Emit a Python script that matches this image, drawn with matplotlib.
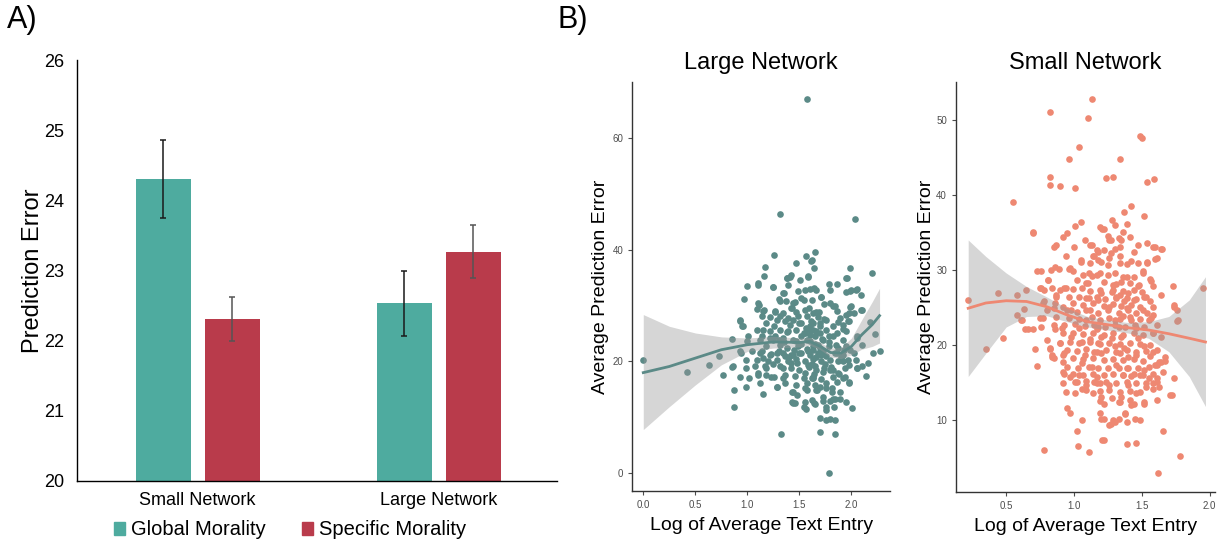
import numpy as np
import matplotlib
matplotlib.use('Agg')
import matplotlib.pyplot as plt
from matplotlib.patches import Patch

plt.rcParams['font.family'] = ['Liberation Sans', 'DejaVu Sans']

# --- panel A: bar chart ---
groups = ['Small Network', 'Large Network']
global_mean = [24.30, 22.53]
global_lo = [23.75, 22.07]
global_hi = [24.86, 22.99]
specific_mean = [22.31, 23.27]
specific_lo = [22.00, 22.89]
specific_hi = [22.62, 23.65]

# --- panel B: large network scatter (x, y) ---
large_pts = [
    (1.57, 67.0), (1.31, 46.4), (2.03, 45.6), (1.26, 39.0), (1.65, 39.6), (1.56, 38.8),
    (1.61, 38.0), (1.47, 37.7), (1.64, 36.7), (1.99, 36.7), (2.20, 35.9), (1.17, 37.0),
    (1.16, 35.3), (1.38, 35.0), (1.41, 35.1), (1.58, 35.2), (1.51, 34.6), (1.96, 34.9),
    (1.78, 33.9), (1.86, 33.9), (1.10, 33.7), (1.00, 33.6), (1.25, 33.3), (1.35, 32.2),
    (1.49, 32.7), (1.60, 33.0), (1.64, 33.2), (1.79, 32.8), (1.99, 32.7), (2.04, 32.8),
    (2.09, 31.9), (0.97, 31.1), (1.30, 31.2), (1.37, 30.9), (1.46, 30.7), (1.54, 31.0),
    (1.71, 31.5), (1.11, 30.1), (1.82, 30.0), (1.99, 29.8), (1.09, 29.4), (1.16, 29.2),
    (2.09, 29.3), (1.27, 29.0), (1.34, 28.7), (1.43, 29.6), (1.59, 29.6), (1.63, 28.7),
    (1.74, 30.3), (1.86, 29.0), (1.98, 28.7), (2.02, 28.6), (0.93, 27.5), (1.14, 28.1),
    (1.22, 27.9), (1.31, 28.2), (1.39, 27.8), (1.49, 28.1), (1.57, 28.1), (1.68, 27.9),
    (1.76, 27.5), (1.89, 27.8), (1.97, 27.2), (0.95, 26.4), (1.18, 26.9), (1.26, 26.3),
    (1.41, 26.6), (1.50, 26.9), (1.60, 26.3), (1.63, 26.9), (1.70, 26.3), (1.82, 26.3),
    (1.92, 26.6), (2.18, 27.0), (1.09, 25.7), (1.22, 25.4), (1.31, 25.7), (1.38, 25.2),
    (1.47, 25.7), (1.54, 25.1), (1.60, 25.7), (1.66, 25.4), (1.76, 25.6), (1.86, 25.1),
    (1.95, 25.4), (2.23, 24.9), (0.85, 24.0), (1.01, 24.6), (1.14, 24.5), (1.25, 23.9),
    (1.34, 24.2), (1.44, 23.9), (1.52, 24.5), (1.60, 23.6), (1.65, 24.5), (1.73, 23.9),
    (1.82, 24.5), (1.92, 23.9), (2.05, 24.2), (1.00, 23.6), (2.10, 23.0), (1.31, 23.0),
    (1.18, 22.7), (1.38, 22.4), (1.49, 22.7), (1.57, 22.2), (1.63, 22.7), (1.70, 22.4),
    (1.78, 22.7), (1.87, 22.4), (1.95, 22.7), (1.99, 22.1), (0.93, 21.8), (0.94, 21.5),
    (1.04, 21.8), (1.12, 21.5), (1.23, 21.4), (1.34, 21.5), (1.42, 21.2), (1.50, 21.6),
    (1.60, 21.2), (1.68, 21.5), (1.76, 21.0), (1.84, 21.5), (1.92, 21.2), (2.02, 21.5),
    (2.21, 21.6), (2.27, 21.9), (1.15, 20.7), (0.99, 20.2), (1.28, 20.3), (1.39, 20.0),
    (1.47, 20.4), (1.55, 20.0), (1.63, 20.4), (1.71, 20.0), (1.79, 20.3), (1.87, 20.0),
    (1.97, 20.3), (2.04, 20.2), (2.16, 19.8), (0.85, 19.0), (0.99, 18.8), (1.07, 19.1),
    (1.18, 18.8), (1.31, 19.1), (1.42, 18.8), (1.50, 18.5), (1.59, 19.0), (1.66, 18.5),
    (1.74, 18.8), (1.82, 18.5), (1.94, 18.8), (2.05, 18.8), (0.93, 17.2), (1.02, 17.0),
    (1.10, 17.6), (1.23, 17.3), (1.34, 17.0), (1.46, 17.4), (1.54, 17.0), (1.63, 17.3),
    (1.71, 16.8), (1.82, 17.2), (1.92, 17.0), (1.98, 16.4), (2.14, 17.4), (1.12, 16.2),
    (1.36, 16.1), (1.47, 15.8), (1.57, 16.2), (1.65, 15.8), (1.76, 16.1), (1.86, 16.4),
    (0.99, 15.5), (1.28, 15.4), (0.87, 14.9), (1.44, 14.6), (1.57, 14.9), (1.67, 14.8),
    (1.81, 15.2), (1.89, 14.6), (1.15, 14.1), (1.48, 14.0), (1.73, 13.7), (1.43, 12.7),
    (1.46, 12.5), (1.55, 12.7), (1.62, 13.1), (1.65, 12.4), (1.79, 13.0), (1.84, 13.3),
    (1.89, 13.3), (1.95, 12.7), (1.54, 11.9), (1.56, 11.5), (1.76, 11.9), (1.83, 11.8),
    (2.01, 11.6), (0.87, 11.9), (1.70, 9.9), (1.76, 9.6), (1.79, 9.7), (1.84, 9.6),
    (1.32, 7.0), (1.70, 7.3), (1.84, 7.0), (1.78, 0.0), (0.00, 20.2), (0.42, 18.1),
    (0.63, 19.3), (0.73, 21.0), (0.77, 17.5),
    (1.60, 24.8), (1.65, 23.2), (1.70, 26.8), (1.62, 19.6), (1.58, 21.8), (1.68, 22.9),
    (1.72, 24.0), (1.75, 19.5), (1.66, 20.8), (1.56, 26.0), (1.61, 27.2), (1.69, 28.9),
    (1.52, 23.2), (1.48, 19.7), (1.78, 23.4), (1.73, 21.8), (1.64, 17.8), (1.55, 18.0),
    (1.80, 19.0), (1.85, 22.9), (1.45, 22.0), (1.40, 20.8), (1.35, 23.5), (1.30, 21.9),
    (1.27, 24.6), (1.20, 20.0), (1.25, 19.5), (1.90, 20.8), (1.88, 17.8), (1.93, 22.0),
    (1.10, 34.0), (1.25, 33.4), (1.38, 35.0), (1.42, 35.4), (1.39, 33.7), (1.58, 35.3),
    (1.34, 32.2), (1.55, 32.8), (1.10, 30.4), (1.15, 29.1), (1.31, 30.9), (1.44, 30.5),
    (1.52, 31.3), (1.62, 31.0), (1.27, 28.9), (1.42, 29.5), (1.47, 28.9), (1.55, 29.2),
    (0.93, 27.3), (0.96, 26.4), (1.28, 27.5), (1.36, 27.2), (1.44, 27.5), (1.52, 26.9),
    (1.15, 25.7), (1.39, 25.4), (1.55, 25.1), (1.63, 25.7), (1.12, 23.9), (1.22, 24.2),
    (1.30, 23.9), (1.47, 23.6), (1.57, 23.9), (1.14, 21.8), (1.22, 21.2), (1.28, 21.5),
    (1.36, 20.9), (1.44, 21.2), (1.52, 21.5), (0.86, 19.1), (1.09, 20.3), (1.17, 19.2),
    (1.34, 18.8), (1.42, 19.7), (1.58, 19.4), (1.10, 17.9), (1.18, 17.6), (1.26, 17.3),
    (1.36, 17.6), (1.62, 17.0), (1.28, 15.5), (1.43, 14.6), (1.55, 15.2), (1.44, 12.5),
    (1.62, 38.2), (1.95, 34.9), (2.05, 33.0), (2.00, 32.8), (1.95, 32.5), (1.66, 32.8),
    (1.71, 31.6), (1.79, 30.5), (1.84, 29.9), (2.00, 29.9), (2.10, 29.3), (1.95, 28.4),
    (1.98, 27.2), (1.66, 28.8), (1.74, 27.6), (1.87, 27.0), (1.92, 25.8), (1.70, 25.1),
    (1.78, 24.5), (2.05, 24.5), (1.63, 22.1), (1.71, 21.2), (1.86, 21.5), (1.92, 20.0),
    (1.98, 19.4), (2.05, 18.8), (2.10, 19.1), (1.65, 19.1), (1.73, 18.2), (1.79, 18.5),
    (1.87, 17.9), (1.94, 17.3), (1.98, 16.2), (1.63, 17.0), (1.70, 15.5), (1.76, 15.2),
    (1.81, 14.6), (1.66, 14.9), (1.64, 12.5), (1.73, 12.9), (1.82, 13.2), (1.76, 11.3),
]
# loess fit + 95% band
large_fit_x = [0.0, 0.25, 0.5, 0.75, 1.0, 1.25, 1.5, 1.6, 1.7, 1.8, 1.9, 2.0, 2.1, 2.2, 2.27]
large_fit_y = [18.0, 19.1, 20.6, 22.1, 23.0, 23.5, 23.4, 23.6, 22.7, 21.6, 21.5, 22.7, 24.8, 26.6, 28.2]
large_fit_lo = [7.8, 11.9, 15.8, 19.4, 21.8, 22.4, 22.6, 22.9, 22.1, 20.8, 20.5, 21.2, 22.2, 22.7, 23.3]
large_fit_hi = [28.4, 26.3, 25.1, 24.4, 24.2, 24.5, 24.2, 24.3, 23.4, 22.4, 22.5, 24.2, 27.5, 30.7, 33.1]

# --- panel B: small network scatter ---
small_pts = [
    (1.135, 52.8), (0.82, 51.1), (1.10, 50.3), (1.49, 47.9), (1.50, 47.6), (1.04, 46.4),
    (0.96, 44.8), (1.34, 44.8), (0.82, 42.4), (1.29, 42.4), (1.24, 42.3), (1.59, 42.1),
    (1.54, 41.7), (0.82, 41.3), (0.90, 41.2), (1.01, 40.9), (0.55, 39.1), (1.42, 38.5),
    (1.37, 37.7), (1.52, 37.2), (1.05, 36.4), (1.39, 36.1), (1.28, 36.7), (1.01, 35.8),
    (1.19, 35.7), (1.30, 36.0), (1.22, 35.4), (0.70, 35.1), (0.70, 34.9), (0.95, 34.9),
    (0.92, 34.4), (1.25, 34.5), (1.41, 34.4), (1.08, 34.0), (1.27, 34.0), (1.35, 34.0),
    (1.54, 33.6), (1.12, 33.3), (1.47, 33.3), (0.87, 33.3), (0.85, 33.1), (1.34, 33.0),
    (1.58, 33.0), (1.65, 32.8), (1.00, 33.0), (1.22, 32.7), (1.30, 32.8), (1.60, 33.0),
    (1.18, 32.4), (1.27, 32.2), (1.44, 32.4), (0.94, 31.8), (1.61, 31.6), (1.14, 31.8),
    (1.26, 31.6), (1.34, 31.8), (1.60, 31.4), (1.18, 31.3), (1.42, 31.2), (1.54, 31.1),
    (1.54, 30.9), (1.05, 31.0), (1.12, 30.9), (1.25, 30.7), (1.39, 30.8), (0.86, 30.4),
    (0.83, 30.0), (0.89, 30.1), (0.73, 29.9), (0.76, 29.9), (0.96, 30.1), (0.99, 29.8),
    (1.07, 29.3), (1.11, 29.6), (1.17, 29.3), (1.30, 29.6), (1.36, 29.1), (1.44, 29.1),
    (1.51, 29.6), (1.56, 28.8), (0.81, 28.7), (1.02, 28.7), (1.09, 28.3), (1.22, 28.4),
    (1.31, 28.1), (1.41, 28.2), (1.48, 28.0), (1.58, 27.8), (0.75, 27.6), (0.78, 27.3),
    (0.84, 27.6), (0.90, 27.3), (0.94, 27.6), (0.995, 27.4), (1.06, 27.6), (1.12, 27.2),
    (1.19, 27.3), (1.29, 27.3), (1.36, 27.2), (1.44, 27.3), (1.50, 27.1), (1.73, 27.8),
    (1.95, 27.6), (0.65, 27.3), (0.44, 26.9), (0.58, 26.6), (0.87, 26.6), (0.96, 26.4),
    (1.04, 26.4), (1.11, 26.2), (1.17, 26.4), (1.23, 26.1), (1.31, 26.4), (1.39, 26.2),
    (1.46, 26.1), (1.53, 26.4), (1.64, 26.7), (0.22, 26.0), (0.78, 25.9), (0.86, 25.6),
    (0.995, 25.6), (1.07, 25.3), (1.14, 25.6), (1.22, 25.2), (1.29, 25.5), (1.35, 25.2),
    (1.42, 25.3), (1.49, 25.1), (1.58, 25.1), (1.74, 25.1), (0.63, 24.8), (0.80, 24.7),
    (0.95, 24.7), (1.02, 24.4), (1.09, 24.6), (1.18, 24.3), (1.25, 24.6), (1.33, 24.3),
    (1.40, 24.6), (1.46, 24.3), (1.54, 24.2), (1.76, 24.6), (0.58, 24.0), (0.75, 23.6),
    (0.87, 23.7), (0.96, 23.6), (1.04, 23.4), (1.13, 23.7), (1.19, 23.3), (1.26, 23.6),
    (1.34, 23.4), (1.41, 23.7), (1.49, 23.4), (1.57, 23.6), (0.61, 23.3), (1.76, 23.2),
    (0.93, 22.7), (1.01, 22.8), (1.08, 22.5), (1.15, 22.7), (1.23, 22.4), (1.30, 22.7),
    (1.38, 22.4), (1.45, 22.6), (1.52, 22.4), (1.61, 22.7), (0.66, 22.1), (0.70, 22.1),
    (0.86, 22.1), (0.48, 20.9), (0.76, 22.4), (0.80, 20.7), (0.92, 21.6), (0.995, 21.6),
    (1.07, 21.5), (1.14, 21.6), (1.22, 21.3), (1.29, 21.6), (1.36, 21.3), (1.44, 21.6),
    (1.51, 21.3), (1.58, 21.6), (1.64, 21.1), (0.90, 20.3), (0.97, 20.4), (1.04, 20.2),
    (1.12, 20.4), (1.19, 20.1), (1.26, 20.3), (1.34, 20.1), (1.41, 20.3), (1.49, 20.1),
    (1.56, 20.0), (0.35, 19.4), (0.71, 19.4), (0.82, 19.4), (0.95, 19.3), (1.02, 19.2),
    (1.09, 19.4), (1.17, 19.1), (1.24, 19.3), (1.31, 19.1), (1.39, 19.3), (1.46, 19.1),
    (1.53, 19.2), (1.61, 19.3), (0.84, 18.7), (0.92, 18.7), (1.56, 18.5), (0.85, 18.2),
    (0.995, 18.2), (1.07, 18.1), (1.14, 18.2), (1.22, 18.0), (1.29, 18.1), (1.36, 18.0),
    (1.44, 18.1), (1.51, 17.9), (1.67, 17.9), (0.73, 17.2), (0.95, 17.1), (1.03, 16.9),
    (1.11, 17.1), (1.18, 16.9), (1.25, 17.0), (1.33, 16.9), (1.40, 17.0), (1.47, 16.9),
    (1.55, 17.1), (1.61, 17.3), (1.64, 17.7), (0.92, 16.4), (0.995, 16.2), (1.07, 16.0),
    (1.14, 16.2), (1.22, 16.0), (1.29, 16.1), (1.36, 16.0), (1.44, 16.1), (1.51, 16.0),
    (1.58, 16.2), (1.66, 16.4), (1.74, 15.6), (0.92, 15.0), (1.02, 15.1), (1.09, 15.2),
    (1.17, 15.0), (1.24, 15.1), (1.31, 14.9), (1.39, 15.1), (1.46, 14.9), (1.53, 15.0),
    (1.61, 15.1), (0.94, 13.8), (1.06, 14.1), (1.19, 13.9), (1.26, 14.0), (1.34, 13.8),
    (1.41, 13.9), (1.49, 13.8), (1.58, 14.2), (1.63, 14.4), (1.71, 13.3), (1.19, 12.6),
    (1.22, 12.2), (1.33, 12.4), (1.44, 12.2), (1.52, 12.2), (1.61, 12.7), (0.95, 11.6),
    (0.97, 10.9), (1.20, 10.2), (1.22, 10.2), (1.33, 10.1), (1.45, 10.1), (1.49, 10.0),
    (1.06, 10.0), (1.38, 10.8), (1.30, 9.8), (1.27, 9.5), (1.39, 9.8), (1.02, 8.5),
    (1.66, 8.5), (1.21, 7.3), (1.39, 6.8), (1.46, 6.9), (1.03, 6.5), (0.78, 6.0),
    (1.11, 5.7), (1.78, 5.2), (1.62, 2.9), (0.64, 22.1),
    (1.13, 33.3), (1.17, 32.7), (1.05, 31.3), (1.15, 31.8), (0.97, 30.2), (1.13, 29.2),
    (0.81, 28.7), (1.10, 28.2), (0.76, 27.6), (0.93, 27.6), (0.87, 26.4), (1.09, 26.2),
    (0.77, 25.6), (0.85, 24.9), (0.92, 25.1), (0.98, 24.7), (1.12, 24.7), (0.62, 23.3),
    (0.77, 23.6), (1.09, 23.3), (0.85, 22.7), (0.91, 22.2), (1.04, 22.2), (1.17, 22.1),
    (0.90, 20.2), (0.98, 21.1), (1.06, 20.4), (1.12, 20.8), (1.18, 20.2), (0.82, 19.6),
    (0.93, 18.9), (1.08, 18.7), (1.15, 19.1), (0.84, 18.4), (0.92, 17.8), (1.06, 17.6),
    (1.13, 17.1), (0.93, 16.2), (0.97, 15.7), (1.04, 16.0), (1.17, 15.7), (1.01, 15.1),
    (1.09, 14.7), (1.15, 15.1), (1.01, 13.6), (1.09, 14.0), (1.14, 13.6), (1.19, 10.9),
    (1.21, 35.5), (1.36, 35.0), (1.26, 34.0), (1.33, 34.2), (1.64, 32.8), (1.20, 31.1),
    (1.34, 30.9), (1.47, 30.9), (1.51, 29.8), (1.19, 29.6), (1.25, 29.3), (1.39, 29.1),
    (1.57, 28.5), (1.29, 28.0), (1.35, 28.4), (1.47, 27.8), (1.20, 26.9), (1.28, 27.1),
    (1.34, 26.7), (1.40, 26.9), (1.52, 26.4), (1.18, 26.0), (1.31, 26.2), (1.37, 25.8),
    (1.44, 26.0), (1.56, 25.8), (1.74, 25.3), (1.26, 25.1), (1.39, 24.9), (1.51, 24.7),
    (1.58, 24.0), (1.77, 23.3), (1.30, 23.3), (1.36, 23.8), (1.42, 23.3), (1.55, 23.3),
    (1.18, 22.4), (1.33, 22.4), (1.46, 22.2), (1.58, 21.6), (1.20, 21.1), (1.28, 20.9),
    (1.35, 21.1), (1.47, 20.9), (1.52, 19.8), (1.58, 19.1), (1.30, 19.8), (1.37, 19.6),
    (1.20, 18.9), (1.34, 18.9), (1.40, 18.4), (1.46, 18.7), (1.67, 18.4), (1.63, 17.8),
    (1.60, 17.3), (1.31, 17.3), (1.39, 16.9), (1.52, 16.7), (1.36, 16.0), (1.42, 15.9),
    (1.49, 16.0), (1.55, 15.6), (1.61, 15.6), (1.19, 14.9), (1.26, 14.7), (1.40, 14.7),
    (1.53, 14.4), (1.58, 14.9), (1.72, 13.3), (1.20, 13.1), (1.28, 12.9), (1.35, 13.1),
    (1.41, 12.7), (1.46, 13.6), (1.52, 12.4), (1.34, 12.4), (1.42, 12.0), (1.29, 10.0),
    (1.38, 11.0), (1.26, 9.4), (1.22, 7.3),
]
small_fit_x = [0.22, 0.35, 0.5, 0.65, 0.8, 0.95, 1.1, 1.25, 1.4, 1.55, 1.7, 1.85, 1.97]
small_fit_y = [24.9, 25.6, 25.9, 25.8, 25.1, 24.0, 23.1, 22.7, 22.3, 22.0, 21.5, 20.9, 20.4]
small_fit_lo = [15.8, 18.9, 22.4, 23.8, 23.9, 23.1, 22.4, 22.0, 21.6, 20.9, 19.1, 15.8, 11.8]
small_fit_hi = [34.0, 31.8, 29.6, 27.8, 26.4, 24.9, 23.8, 23.3, 23.0, 23.1, 23.8, 26.0, 29.1]

teal_bar = '#4EAB9F'
red_bar = '#B93B4B'
teal_pt = '#5B8A87'
salmon_pt = '#EE8872'

fig = plt.figure(figsize=(12.25, 5.48), dpi=100)

# ---- A) bar chart ----
ax = fig.add_axes([0.0629, 0.1223, 0.3918, 0.7682])
xpos = np.arange(len(groups))
w = 0.227
off = 0.143
ax.bar(xpos - off, np.array(global_mean) - 20, w, bottom=20, color=teal_bar)
ax.bar(xpos + off, np.array(specific_mean) - 20, w, bottom=20, color=red_bar)
ax.errorbar(xpos - off, global_mean,
            yerr=[np.array(global_mean) - global_lo, np.array(global_hi) - global_mean],
            fmt='none', ecolor='#1a1a1a', elinewidth=1.1, capsize=2.5, capthick=1.1)
ax.errorbar(xpos + off, specific_mean,
            yerr=[np.array(specific_mean) - specific_lo, np.array(specific_hi) - specific_mean],
            fmt='none', ecolor='#555555', elinewidth=1.1, capsize=2.5, capthick=1.1)
ax.set_ylim(20, 26)
ax.set_xlim(-0.5, 1.49)
ax.set_xticks(xpos)
ax.set_xticklabels(groups, fontsize=13)
ax.set_yticks(range(20, 27))
ax.tick_params(axis='y', length=0, labelsize=13, pad=9)
ax.tick_params(axis='x', length=0, pad=8)
ax.set_ylabel('Prediction Error', fontsize=17)
ax.yaxis.set_label_coords(-0.069, 0.5)
ax.spines['top'].set_visible(False)
ax.spines['right'].set_visible(False)
ax.spines['left'].set_linewidth(1.0)
ax.spines['bottom'].set_linewidth(1.0)
handles = [Patch(color=teal_bar, label='Global Morality'),
           Patch(color=red_bar, label='Specific Morality')]
fig.legend(handles=handles, loc='center', bbox_to_anchor=(0.237, 0.033), ncol=2,
           frameon=False, fontsize=14.5, handlelength=0.55, handleheight=0.6,
           handletextpad=0.3, columnspacing=1.8)
fig.text(0.006, 0.963, 'A)', fontsize=22, va='center', ha='left')
fig.text(0.455, 0.963, 'B)', fontsize=22, va='center', ha='left')


def scatter_panel(rect, pts, fx, fy, flo, fhi, color, title, xlim, ylim, yticks, xticks, ylx):
    a = fig.add_axes(rect)
    px = [p[0] for p in pts]
    py = [p[1] for p in pts]
    a.scatter(px, py, s=23, color=color, linewidths=0, zorder=2)
    a.fill_between(fx, flo, fhi, color='#999999', alpha=0.4, linewidth=0, zorder=3)
    a.plot(fx, fy, color=color, lw=2, zorder=4)
    a.set_xlim(*xlim)
    a.set_ylim(*ylim)
    a.set_xticks(xticks)
    a.set_xticklabels(['%.1f' % t for t in xticks])
    a.set_yticks(yticks)
    a.tick_params(labelsize=7, colors='#4D4D4D', length=3, width=0.8)
    for s in ['top', 'right']:
        a.spines[s].set_visible(False)
    for s in ['left', 'bottom']:
        a.spines[s].set_color('#333333')
        a.spines[s].set_linewidth(1.0)
    a.set_title(title, fontsize=17, pad=9)
    a.set_xlabel('Log of Average Text Entry', fontsize=14, labelpad=5)
    a.set_ylabel('Average Prediction Error', fontsize=14)
    a.yaxis.set_label_coords(ylx, 0.5)
    return a


scatter_panel([0.5162, 0.1040, 0.2103, 0.7469], large_pts, large_fit_x, large_fit_y,
              large_fit_lo, large_fit_hi, teal_pt, 'Large Network',
              (-0.105, 2.37), (-3.2, 70.1), [0, 20, 40, 60], [0.0, 0.5, 1.0, 1.5, 2.0], -0.09)
scatter_panel([0.7804, 0.1027, 0.2114, 0.7482], small_pts, small_fit_x, small_fit_y,
              small_fit_lo, small_fit_hi, salmon_pt, 'Small Network',
              (0.13, 2.04), (0.44, 55.1), [10, 20, 30, 40, 50], [0.5, 1.0, 1.5, 2.0], -0.08)

fig.savefig('out.png', dpi=100)
